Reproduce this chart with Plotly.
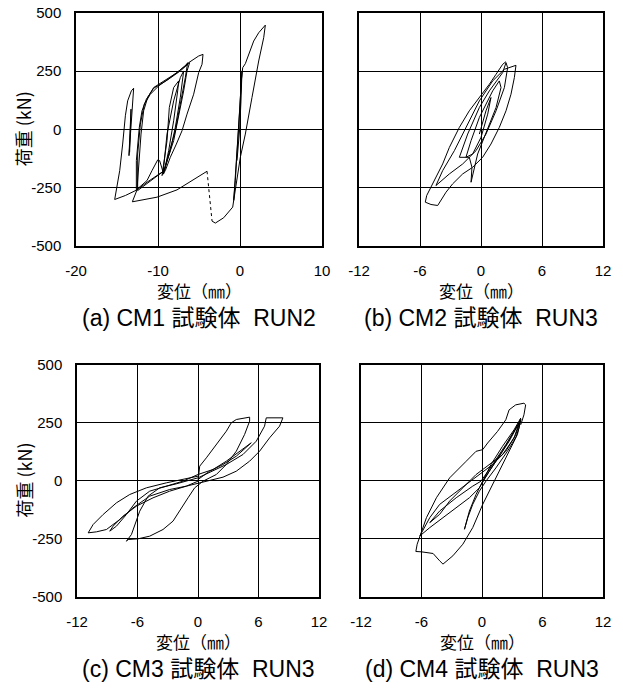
import plotly.graph_objects as go

# ---------------- data (displacement mm, load kN) ----------------
# (a) CM1 RUN2
a1_x = [-12.56, -13.98, -15.28, -14.67, -14.31, -13.98, -13.70, -13.25, -12.97, -13.13, -13.54, -13.29, -13.46]
a1_y = [-260.7, -285.0, -302.1, -177.9, -63.6, 57.9, 122.1, 165.0, 176.4, 79.3, -113.6, 86.4, -99.3]

a2_x = [-12.56, -12.36, -12.07, -11.75, -11.26, -10.53, -9.31, -7.68, -6.26, -5.04, -4.51, -4.63, -5.04, -5.65,
        -6.46, -7.07, -7.76, -8.50, -9.11, -9.51,
        -8.90, -8.62, -8.09, -7.48, -7.60, -8.09, -8.70, -9.31,
        -9.80, -10.04, -10.73, -11.34, -12.64,
        -12.64, -12.28, -11.95, -11.42, -10.53, -8.90, -7.28, -6.14, -6.46, -6.87, -7.48, -8.09, -8.90, -9.39,
        -8.90, -8.09, -7.28, -6.87, -7.28, -7.89, -8.50, -9.23,
        -12.48, -12.48, -12.15, -11.67, -10.93, -9.92, -8.50, -6.67, -6.38, -6.67, -7.28, -7.89, -8.70, -9.23,
        -11.34, -12.56, -13.13, -10.12, -7.68, -4.02]
a2_y = [-260.7, -163.6, -20.7, 79.3, 136.4, 179.3, 207.9, 243.6, 286.4, 315.0, 322.1, 279.3, 243.6, 150.7,
        65.0, -6.4, -63.6, -120.7, -177.9, -199.3,
        -49.3, 93.6, 179.3, 207.9, 165.0, 36.4, -92.1, -192.1,
        -135.0, -132.1, -177.9, -220.7, -260.7,
        -135.0, 7.9, 79.3, 129.3, 176.4, 210.7, 250.7, 286.4, 250.7, 165.0, 65.0, -49.3, -135.0, -192.1,
        -20.7, 122.1, 222.1, 250.7, 136.4, 7.9, -92.1, -177.9,
        -263.6, -106.4, 22.1, 107.9, 150.7, 186.4, 222.1, 272.1, 286.4, 222.1, 107.9, -6.4, -106.4, -177.9,
        -227.9, -260.7, -312.1, -292.1, -260.7, -180.7]

a3_x = [-4.02, -3.41]
a3_y = [-180.7, -395.0]

a4_x = [-3.41, -3.01, -1.99, -0.89, -0.77, -0.49, -0.24, -0.04, 0.16, 0.33, 0.65, 1.26, 1.67, 2.28, 2.80, 3.09,
        2.89, 2.28, 1.46, 0.65, 0.04, -0.57, -0.77, -0.57, -0.16, 0.04, 0.24, 0.12, -0.04, -0.37]
a4_y = [-395.0, -403.6, -380.7, -335.0, -306.4, -163.6, -49.3, 79.3, 207.9, 265.0, 282.1, 336.4, 379.3, 415.0, 439.3, 447.9,
        393.6, 293.6, 136.4, -20.7, -120.7, -249.3, -306.4, -220.7, 0.7, 122.1, 250.7, 122.1, 0.7, -135.0]

# (b) CM2 RUN3
b_x = [-0.16, 0.49, 0.98, 0.66, 0.00, -0.82, -1.48, -0.98, -0.16, 1.15, 1.80, 1.97, 1.48, 0.49, -0.33, -0.98,
       -0.89, -1.15, -2.13, -1.31, -0.16, 0.82, 2.13, 2.46, 2.62, 2.30, 1.48, 0.49, -0.49, -1.80, -3.11, -4.43,
       -3.77, -2.62, -1.48, -0.16, 1.15, 2.30, 3.44, 3.28, 2.95, 2.46, 1.80, 0.98, 0.16, -0.82, -1.80, -2.79,
       -3.44, -4.26, -4.92, -5.48, -5.34, -4.92, -4.43, -3.77, -3.11, -2.13, -1.15, -0.16, 0.82, 1.48, 2.13, 2.46]
b_y = [-20.7, 79.3, 136.4, 65.0, -35.0, -106.4, -120.7, -49.3, 50.7, 165.0, 207.9, 179.3, 93.6, -20.7, -106.4, -227.9,
       -163.6, -120.7, -120.7, -20.7, 93.6, 165.0, 243.6, 286.4, 265.0, 179.3, 79.3, -20.7, -92.1, -149.3, -192.1, -242.1,
       -177.9, -92.1, 7.9, 122.1, 207.9, 257.9, 275.0, 222.1, 150.7, 79.3, 7.9, -63.6, -120.7, -163.6, -192.1, -235.0,
       -270.7, -327.9, -323.6, -313.6, -285.0, -249.3, -206.4, -149.3, -77.9, 7.9, 79.3, 136.4, 193.6, 236.4, 279.3, 290.7]

# (c) CM3 RUN3
c_x = [0.00, 1.16, 2.48, 3.80, 5.28, 4.13, 2.81, 1.49, 0.00, -1.49, -3.14, -4.79, -6.11, -7.10, -8.09, -8.75,
       -8.42, -7.43, -6.11, -4.46, -2.81, -1.16, 0.00,
       0.17, 0.83, 1.82, 2.81, 3.30, 3.80, 5.12, 5.12, 4.62, 3.80, 2.81, 1.82, 0.50, -0.33, -0.99, -1.82, -2.48,
       -3.47, -4.79, -5.94, -6.93, -7.10, -6.60, -5.78, -4.95, -3.80, -2.15, 0.00,
       1.49, 2.81, 4.46, 5.78, 6.60, 6.77, 8.42, 8.09, 7.10, 6.11, 5.12, 3.80, 2.48, 1.16, 0.00, -1.16, -2.81,
       -4.79, -6.44, -7.76, -9.08, -10.07, -10.89, -10.40, -9.41, -8.09, -6.77, -5.12, -3.14, -1.49, 0.00]
c_y = [4.3, 40.2, 69.0, 104.9, 162.4, 126.4, 83.3, 47.4, 25.9, -2.9, -24.4, -46.0, -89.1, -146.6, -196.8, -218.4,
       -196.8, -153.7, -110.6, -74.7, -46.0, -24.4, -2.9,
       61.8, 97.7, 155.2, 212.6, 248.6, 262.9, 273.0, 255.8, 198.3, 126.4, 69.0, 25.9, -2.9, -31.6, -74.7, -132.2, -175.3,
       -211.2, -239.9, -251.4, -254.3, -261.5, -232.8, -132.2, -67.5, -31.6, -14.4, 11.5,
       40.2, 69.0, 112.1, 169.5, 234.2, 270.1, 270.1, 234.2, 183.9, 126.4, 83.3, 40.2, 14.4, 0.0, -10.1, -24.4, -38.8,
       -67.5, -117.8, -168.1, -211.2, -221.3, -225.6, -189.7, -146.6, -96.3, -60.3, -31.6, -10.1, 4.3, 18.7]

# (d) CM4 RUN3
d_x = [0.00, 0.89, 2.03, 3.18, 3.84, 3.18, 2.03, 0.72, -0.59, -1.90, -3.21, -4.20, -5.18, -4.20, -2.56, -0.92,
       -0.10, 1.05, 2.36, 3.67, 3.84, 3.34, 2.36, 1.05, -0.26, -1.57, -2.89, -4.20, -5.18, -6.00, -6.16, -5.18,
       -3.87, -2.56, -1.25, -0.26, 0.72, 2.03, 3.02, 3.84, 3.51, 2.52, 1.38, 0.39, -0.26, -0.92, -1.41, -1.74,
       -1.25, -0.59, 0.07, 1.38, 2.69, 3.84, 3.67, 3.34, 2.52, 1.70, 0.89, 0.07, -0.92, -1.90, -2.89, -3.87,
       -4.20, -4.85, -6.00, -6.56, -6.43, -6.16, -5.51, -4.52, -3.21, -1.57, -0.59, 0.07, 0.56, 1.54, 2.36, 2.69,
       3.34, 4.16, 4.33, 4.16, 3.84]
d_y = [-10.0, 68.6, 147.3, 218.8, 268.8, 183.0, 111.5, 68.6, 25.7, -31.5, -88.7, -145.9, -181.6, -131.6, -74.4, -24.3,
       -2.9, 68.6, 154.4, 247.4, 261.7, 197.3, 125.8, 68.6, 25.7, -17.2, -60.1, -103.0, -160.2, -224.5, -238.8, -203.1,
       -160.2, -117.3, -74.4, -31.5, 40.0, 125.8, 197.3, 261.7, 197.3, 125.8, 54.3, -2.9, -45.8, -103.0, -160.2, -210.2,
       -131.6, -60.1, -2.9, 82.9, 168.7, 261.7, 225.9, 183.0, 111.5, 40.0, -31.5, -103.0, -203.1, -274.6, -324.6, -360.4,
       -346.1, -314.6, -307.5, -306.0, -274.6, -238.8, -160.2, -74.4, 11.4, 82.9, 125.8, 133.0, 161.6, 211.6, 261.7, 304.6,
       326.0, 333.2, 326.0, 283.1, 240.2]

y_ticks = [-500, -250, 0, 250, 500]
y_ticktext = ["-500", "-250", "0", "250", "500"]
x_ticks_a = [-20, -10, 0, 10]
x_ticktext_a = ["-20", "-10", "0", "10"]
x_ticks_bcd = [-12, -6, 0, 6, 12]
x_ticktext_bcd = ["-12", "-6", "0", "6", "12"]
captions = ["(a) CM1 試験体  RUN2", "(b) CM2 試験体  RUN3", "(c) CM3 試験体  RUN3", "(d) CM4 試験体  RUN3"]
x_title = "変位（㎜）"
y_title = "荷重 (kN)"

# ---------------- figure ----------------
OFF = 0  # page body margin is removed by the post script below
W, H = 623 - OFF, 688 - OFF
FONT = "Arial, 'Liberation Sans', 'Noto Sans CJK JP', sans-serif"
JFONT = "'Noto Sans CJK JP', sans-serif"

fig = go.Figure()


def add(x, y, xa, ya, dash="solid"):
    fig.add_trace(go.Scatter(x=x, y=y, mode="lines", xaxis=xa, yaxis=ya,
                             line=dict(color="black", width=1, dash=dash), showlegend=False,
                             hoverinfo="skip"))


add(a1_x, a1_y, "x", "y")
add(a2_x, a2_y, "x", "y")
add(a3_x, a3_y, "x", "y", dash="dot")
add(a4_x, a4_y, "x", "y")
add(b_x, b_y, "x2", "y2")
add(c_x, c_y, "x3", "y3")
add(d_x, d_y, "x4", "y4")


def px(v):
    return (v - OFF) / W


def py(v):
    return 1 - (v - OFF) / H


panels = {
    # name: (xdomain px, ydomain px (top,bottom), xrange, xticks, xticktext, show y labels)
    "1": ((76, 322), (13, 245.5), [-20, 10], x_ticks_a, x_ticktext_a, True),
    "2": ((359, 603), (13, 245.5), [-12, 12], x_ticks_bcd, x_ticktext_bcd, False),
    "3": ((77, 319), (364.5, 596.5), [-12, 12], x_ticks_bcd, x_ticktext_bcd, True),
    "4": ((361, 603), (364.5, 596.5), [-12, 12], x_ticks_bcd, x_ticktext_bcd, False),
}

layout = dict(width=W, height=H, margin=dict(l=0, r=0, t=0, b=0, autoexpand=False),
              paper_bgcolor="white", plot_bgcolor="white",
              font=dict(family=FONT, size=15, color="black"))
annotations = []
for i, (k, (xd, yd, xr, xt, xtt, showy)) in enumerate(panels.items()):
    xname = "xaxis" if k == "1" else "xaxis" + k
    yname = "yaxis" if k == "1" else "yaxis" + k
    anchor_x = "y" if k == "1" else "y" + k
    anchor_y = "x" if k == "1" else "x" + k
    layout[xname] = dict(domain=[px(xd[0]), px(xd[1])], range=xr, tickvals=xt, ticktext=xtt,
                         anchor=anchor_x, showgrid=True, gridcolor="black", gridwidth=1,
                         zeroline=False, showline=True, linecolor="black", linewidth=1.5,
                         mirror=True, ticks="", ticklabelstandoff=11, automargin=False,
                         ticklabeloverflow="allow", tickfont=dict(size=15, family=FONT))
    layout[yname] = dict(domain=[py(yd[1]), py(yd[0])], range=[-500, 500], tickvals=y_ticks,
                         ticktext=y_ticktext,
                         anchor=anchor_y, showgrid=True, gridcolor="black", gridwidth=1,
                         zeroline=False, showline=True, linecolor="black", linewidth=1.5,
                         mirror=True, ticks="", ticklabelstandoff=10, showticklabels=showy,
                         automargin=False, ticklabeloverflow="allow",
                         tickfont=dict(size=15, family=FONT))
    xc = px((xd[0] + xd[1]) / 2)
    bottom = yd[1]
    # x-axis title
    annotations.append(dict(text=x_title, x=xc, y=py(bottom + 45), xref="paper", yref="paper",
                            showarrow=False, font=dict(size=17, family=JFONT),
                            xanchor="center", yanchor="middle", borderpad=0))
    # caption
    annotations.append(dict(text=captions[i], x=xc, y=py(bottom + 72), xref="paper", yref="paper",
                            showarrow=False, font=dict(size=23, family=FONT),
                            xanchor="center", yanchor="middle", borderpad=0))
    if showy:
        yc = py((yd[0] + yd[1]) / 2)
        annotations.append(dict(text=y_title, x=px(23), y=yc, xref="paper", yref="paper",
                                showarrow=False, textangle=-90, font=dict(size=18, family=JFONT),
                                xanchor="center", yanchor="middle", borderpad=0))

layout["annotations"] = annotations
fig.update_layout(**layout)
fig.write_html("out.html", config={"displayModeBar": False},
               post_script="document.body.style.margin='0px';")
